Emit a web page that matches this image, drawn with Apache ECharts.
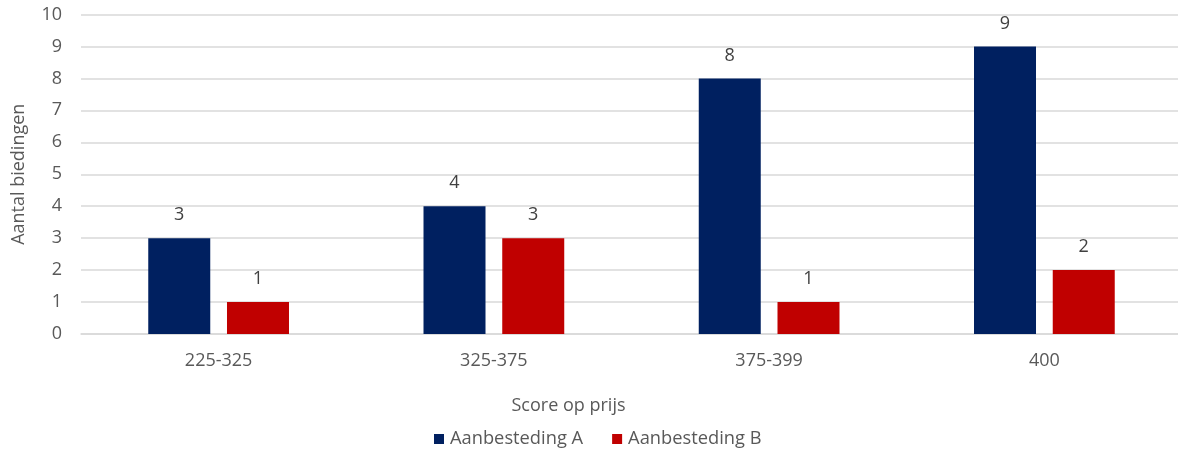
<!DOCTYPE html>
<html><head><meta charset="utf-8">
<script src="https://cdn.jsdelivr.net/npm/echarts@6/dist/echarts.min.js"></script>
<style>html,body{margin:0;padding:0;background:#fff;overflow:hidden;width:1178px;height:450px}#c{width:1190px;height:450px}</style>
</head><body><div id="c"></div>
<script>
const categories = ['225-325', '325-375', '375-399', '400'];
const seriesA = [3, 4, 8, 9];
const seriesB = [1, 3, 1, 2];
const yTicks = [0, 10, 1];
const FONT = '"Open Sans", "Noto Sans", sans-serif';
const TXT = '#595959';
const chart = echarts.init(document.getElementById('c'));
const label = {show: true, position: 'top', distance: 14, color: '#404040', fontSize: 18, fontFamily: FONT};
chart.setOption({
  animation: false,
  textStyle: {fontFamily: FONT},
  grid: {left: 81, width: 1101, top: 14.5, height: 319.5, containLabel: false},
  legend: {
    bottom: -3, left: 429, itemWidth: 10, itemHeight: 10, itemGap: 29,
    icon: 'rect',
    textStyle: {color: TXT, fontSize: 18.3, fontFamily: FONT, padding: [0, 0, 0, 1]},
    data: ['Aanbesteding A', 'Aanbesteding B']
  },
  xAxis: {
    type: 'category', data: categories,
    name: 'Score op prijs', nameLocation: 'middle', nameGap: 63,
    nameTextStyle: {color: TXT, fontSize: 18, fontFamily: FONT, padding: [0, 126, 0, 0]},
    axisLine: {show: true, lineStyle: {color: '#D9D9D9', width: 1.5}},
    axisTick: {show: false},
    axisLabel: {color: TXT, fontSize: 18, fontFamily: FONT, margin: 18}
  },
  yAxis: {
    type: 'value', min: yTicks[0], max: yTicks[1], interval: yTicks[2],
    name: 'Aantal biedingen', nameLocation: 'middle', nameGap: 53, nameRotate: 90,
    nameTextStyle: {color: TXT, fontSize: 18, fontFamily: FONT},
    axisLine: {show: false}, axisTick: {show: false},
    splitLine: {lineStyle: {color: '#D9D9D9', width: 1.5}},
    axisLabel: {color: TXT, fontSize: 18, fontFamily: FONT, margin: 19}
  },
  series: [
    {name: 'Aanbesteding A', type: 'bar', data: seriesA, barWidth: 62, barGap: '27%',
     itemStyle: {color: '#002060'}, label: label},
    {name: 'Aanbesteding B', type: 'bar', data: seriesB, barWidth: 62,
     itemStyle: {color: '#C00000'}, label: label}
  ]
});
</script></body></html>
